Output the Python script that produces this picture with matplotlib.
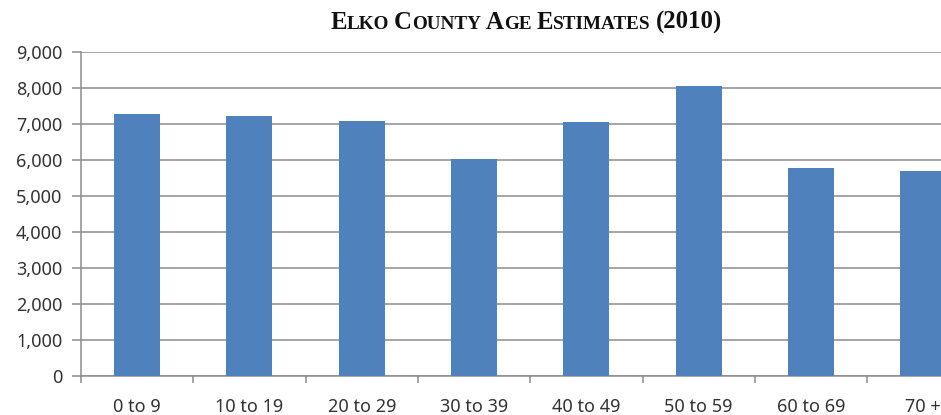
import matplotlib
matplotlib.use("Agg")
import matplotlib.pyplot as plt
import numpy as np

# age groups and population estimates
age_groups = ["0 to 9", "10 to 19", "20 to 29", "30 to 39",
              "40 to 49", "50 to 59", "60 to 69", "70 +"]
population = [7270, 7230, 7090, 6020, 7055, 8065, 5780, 5705]
y_ticks = [0, 1000, 2000, 3000, 4000, 5000, 6000, 7000, 8000, 9000]

# title pieces: (text, is_large) to fake small caps
title_parts = [("E", True), ("LKO", False), ("C", True), ("OUNTY", False),
               ("A", True), ("GE", False), ("E", True), ("STIMATES", False),
               ("(2010)", True)]

BAR_COLOR = "#4F81BD"
GRID_COLOR = "#8c8c8c"
TEXT_COLOR = "#333333"
LABEL_FONT = "Noto Sans"

W, H = 941, 415
fig = plt.figure(figsize=(W / 100, H / 100), dpi=100)
ax = fig.add_axes([81 / W, (H - 376) / H, 8 * 112.3 / W, 324 / H])

x = np.arange(len(age_groups))
ax.bar(x, population, width=0.41, color=BAR_COLOR, zorder=3)

ax.set_xlim(-0.5, len(age_groups) - 0.5)
ax.set_ylim(0, 9000)
ax.set_yticks(y_ticks)
ax.set_yticklabels([f"{v:,}" for v in y_ticks], family=LABEL_FONT)
ax.yaxis.grid(True, color=GRID_COLOR, linewidth=1.1, zorder=0)

# labels at category centres, tick marks on category boundaries
ax.set_xticks(x)
ax.set_xticklabels(age_groups, family=LABEL_FONT)
ax.set_xticks(np.arange(len(age_groups) + 1) - 0.5, minor=True)
ax.tick_params(axis="x", which="major", length=0, pad=15.5,
               labelsize=13, labelcolor=TEXT_COLOR)
ax.tick_params(axis="x", which="minor", length=5, width=1.1, color=GRID_COLOR)
ax.tick_params(axis="y", length=6.5, width=1.1, color=GRID_COLOR, pad=7,
               labelsize=13, labelcolor=TEXT_COLOR)

for side in ["top", "right"]:
    ax.spines[side].set_visible(False)
for side in ["left", "bottom"]:
    ax.spines[side].set_color(GRID_COLOR)
    ax.spines[side].set_linewidth(1.1)


def small_caps_title(fig, parts, cx, y, big=17.8, small=13.8):
    renderer = fig.canvas.get_renderer()
    gap = 0.2 * big * fig.dpi / 72
    texts, widths = [], []
    for s, large in parts:
        t = fig.text(0, y, s, fontsize=big if large else small,
                     fontweight="bold", family="Liberation Serif",
                     color="#111111", va="baseline", ha="left")
        texts.append(t)
        widths.append(t.get_window_extent(renderer).width)
    # a space after each lowercase run, i.e. between words
    gaps = [gap if (not large and i < len(parts) - 1) else 0
            for i, (_, large) in enumerate(parts)]
    total = sum(widths) + sum(gaps)
    pos = cx * W - total / 2
    for t, w, g in zip(texts, widths, gaps):
        t.set_x(pos / W)
        pos += w + g


small_caps_title(fig, title_parts, 526 / W, 1 - 29 / H)

fig.savefig("out.png", dpi=100)
